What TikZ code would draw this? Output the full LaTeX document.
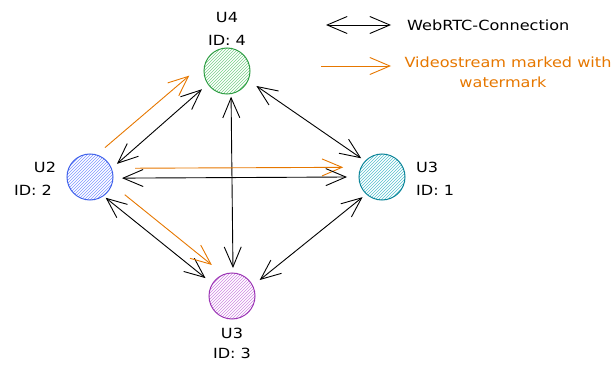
\documentclass[tikz,border=0pt]{standalone}
\usepackage{fontspec}
\setmainfont[FakeStretch=1.15]{DejaVu Sans}
\usetikzlibrary{arrows.meta,patterns,calc}
\definecolor{org}{HTML}{E67700}
\definecolor{gs}{HTML}{2F9E44}\definecolor{gf}{HTML}{7ACF89}
\definecolor{bs}{HTML}{4263EB}\definecolor{bf}{HTML}{8096FF}
\definecolor{ts}{HTML}{0C8599}\definecolor{tf}{HTML}{55BFCD}
\definecolor{ps}{HTML}{9C36B5}\definecolor{pf}{HTML}{CF88E2}
\begin{document}
\begin{tikzpicture}[x=1pt,y=1pt,
  peer/.style={circle,minimum size=46pt,inner sep=0pt,line width=1pt},
  conn/.style={line width=0.9pt,{Straight Barb[length=20pt,width=17pt]}-{Straight Barb[length=20pt,width=17pt]}},
  stream/.style={draw=org,line width=0.9pt,-{Straight Barb[length=20pt,width=17pt]}},
  lbl/.style={font=\fontsize{14}{16}\selectfont,inner sep=0pt}]
\useasboundingbox (0,0) rectangle (614,365);
% peers
\node[peer,draw=gs,pattern=north east lines,pattern color=gf] (u4) at (227,294) {};
\node[peer,draw=bs,pattern=north east lines,pattern color=bf] (u2) at (90,188) {};
\node[peer,draw=ts,pattern=north east lines,pattern color=tf] (u3r) at (382,188) {};
\node[peer,draw=ps,pattern=north east lines,pattern color=pf] (u3b) at (232,69) {};
% labels
\node[lbl] (u4a) at (227,348) {U4};
\node[lbl] (u4b) at (227,325) {ID: 4};
\node[lbl] (u2a) at (45,198) {U2};
\node[lbl] (u2b) at (33,175) {ID: 2};
\node[lbl,anchor=west] (u3ra) at (416,198) {U3};
\node[lbl,anchor=west] (u3rb) at (416,175) {ID: 1};
\node[lbl] (u3ba) at (232,32) {U3};
\node[lbl] (u3bb) at (232,12) {ID: 3};
% connections
\draw[conn] ($(u2)+(26:30)$) -- ($(u4)+(216:31)$);
\draw[stream] ($(u2)+(63:33)$) -- ($(u4)+(187:38)$);
\draw[conn] ($(u4)+(-27:33)$) -- ($(u3r)+(138:28)$);
\draw[conn] ($(u4)+(-81:26)$) -- ($(u3b)+(88:28)$);
\draw[stream] ($(u2)+(11:46)$) -- ($(u3r)+(166:40)$);
\draw[conn] ($(u2)+(-2:32)$) -- ($(u3r)+(180:35)$);
\draw[conn] ($(u2)+(-53:26)$) -- ($(u3b)+(146:32)$);
\draw[stream] ($(u2)+(-27:39)$) -- ($(u3b)+(123:37)$);
\draw[conn] ($(u3r)+(226:28)$) -- ($(u3b)+(30:32)$);
% legend
\coordinate (la) at (326,340);
\coordinate (lb) at (391,340);
\coordinate (lc) at (321,299);
\coordinate (ld) at (391,299);
\draw[conn] (la) -- (lb);
\draw[stream] (lc) -- (ld);
\node[lbl,anchor=west] (lt1) at (407,340) {WebRTC-Connection};
\node[lbl,text=org] (lt2) at (508,303) {Videostream marked with};
\node[lbl,text=org] (lt3) at (503,283) {watermark};
\end{tikzpicture}
\end{document}
